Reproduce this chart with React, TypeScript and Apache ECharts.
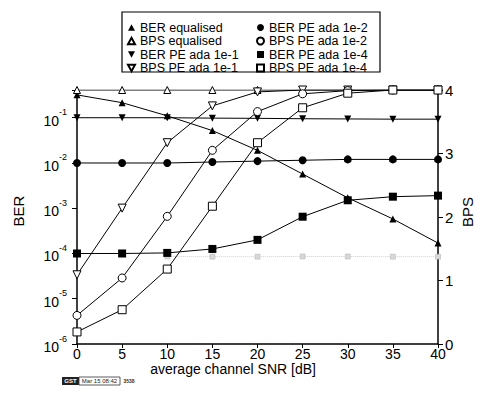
import React, { useEffect, useRef } from "react";
import * as echarts from "echarts";

const snr = [0, 5, 10, 15, 20, 25, 30, 35, 40];
const berEqualised = [0.32, 0.215, 0.11, 0.052, 0.019, 0.0057, 0.0017, 0.00058, 0.00017];
const bpsEqualised = [4, 4, 4, 4, 4, 4, 4, 4, 4];
const berPe1 = [0.1, 0.1, 0.1, 0.098, 0.097, 0.095, 0.094, 0.093, 0.093];
const bpsPe1 = [1.09, 2.14, 3.17, 3.75, 3.97, 4, 4, 4, 4];
const berPe2 = [0.01, 0.01, 0.01, 0.0105, 0.011, 0.0115, 0.012, 0.012, 0.012];
const bpsPe2 = [0.45, 1.04, 2.01, 3.05, 3.66, 3.94, 3.99, 4, 4];
const berPe4 = [1e-4, 1e-4, 1.03e-4, 1.26e-4, 2.0e-4, 6.5e-4, 1.5e-3, 1.8e-3, 1.9e-3];
const bpsPe4 = [0.19, 0.54, 1.18, 2.17, 3.17, 3.72, 3.95, 4, 4];
const faintSnr = [10, 15, 20, 25, 30, 35, 40];
const faintValues = [8.6e-5, 8.5e-5, 8.5e-5, 8.6e-5, 8.6e-5, 8.5e-5, 8.5e-5];

const legendLeft = ["BER equalised", "BPS equalised", "BER PE ada 1e-1", "BPS PE ada 1e-1"];
const legendRight = ["BER PE ada 1e-2", "BPS PE ada 1e-2", "BER PE ada 1e-4", "BPS PE ada 1e-4"];

const FONT = "Liberation Sans";
const DOWN_TRI = "path://M0,0L10,0L5,9Z";
const UP_TRI = "path://M5,0L10,9L0,9Z";

const pair = (xs: number[], ys: number[]) => xs.map((x, i) => [x, ys[i]]);

function mkSeries(name: string, ys: number[], axis: number, symbol: string, filled: boolean, size: number) {
  return {
    name,
    type: "line",
    yAxisIndex: axis,
    data: pair(snr, ys),
    symbol,
    symbolSize: size,
    showAllSymbol: true,
    lineStyle: { color: "#000", width: 1 },
    itemStyle: filled
      ? { color: "#000", borderColor: "#000", borderWidth: 0 }
      : { color: "#fff", borderColor: "#000", borderWidth: 1 },
    emphasis: { disabled: true },
    z: 3,
  };
}

export default function App() {
  const ref = useRef<HTMLDivElement>(null);
  useEffect(() => {
    if (!ref.current) return;
    const chart = echarts.init(ref.current, undefined, { renderer: "svg" });
    const legendCommon = {
      orient: "vertical",
      itemWidth: 7,
      itemHeight: 7,
      selectedMode: false,
      textStyle: { fontFamily: FONT, fontSize: 12.5, color: "#000", lineHeight: 12 },
      padding: 0,
    };
    chart.setOption({
      animation: false,
      backgroundColor: "#fff",
      textStyle: { fontFamily: FONT },
      grid: { left: 77, right: 44, top: 90, bottom: 50, containLabel: false },
      legend: [
        {
          ...legendCommon,
          left: 127,
          top: 21,
          itemGap: 0.5,
          data: [
            { name: legendLeft[0], icon: UP_TRI },
            { name: legendLeft[1], icon: UP_TRI },
            { name: legendLeft[2], icon: DOWN_TRI },
            { name: legendLeft[3], icon: DOWN_TRI },
          ],
        },
        {
          ...legendCommon,
          left: 256,
          top: 21,
          itemGap: 0.5,
          data: [
            { name: legendRight[0], icon: "circle" },
            { name: legendRight[1], icon: "circle" },
            { name: legendRight[2], icon: "rect" },
            { name: legendRight[3], icon: "rect" },
          ],
        },
      ],
      xAxis: {
        type: "value",
        min: 0,
        max: 40,
        interval: 5,
        axisLine: { lineStyle: { color: "#000", width: 1.5 } },
        axisTick: { inside: false, length: 4, lineStyle: { color: "#000", width: 1 } },
        axisLabel: { color: "#000", fontSize: 14, margin: 3, fontFamily: FONT, lineHeight: 14 },
        splitLine: { show: false },
      },
      yAxis: [
        {
          type: "log",
          logBase: 10,
          min: 1e-6,
          max: 0.41,
          position: "left",
          axisLine: { show: true, lineStyle: { color: "#000", width: 1.5 } },
          axisTick: { show: true, inside: false, length: 5, lineStyle: { color: "#000" } },
          splitLine: { show: false },
          minorTick: { show: false },
          axisLabel: {
            color: "#000",
            margin: 10,
            fontFamily: FONT,
            formatter: (v: number) => {
              const l = Math.log10(v);
              const e = Math.round(l);
              if (Math.abs(l - e) > 1e-6) return "";
              return `{b|10}{s|${e}}`;
            },
            rich: {
              b: { fontSize: 14, lineHeight: 20, verticalAlign: "bottom", fontFamily: FONT, color: "#000" },
              s: { fontSize: 9, lineHeight: 10, verticalAlign: "top", fontFamily: FONT, color: "#000" },
            },
          },
        },
        {
          type: "value",
          min: 0,
          max: 4,
          interval: 1,
          position: "right",
          axisLine: { show: true, lineStyle: { color: "#000", width: 1.5 } },
          axisTick: { show: true, inside: false, length: 5, lineStyle: { color: "#000" } },
          splitLine: { show: false },
          axisLabel: { color: "#000", fontSize: 15, margin: 7, fontFamily: FONT },
        },
      ],
      series: [
        {
          name: "faint",
          type: "line",
          yAxisIndex: 0,
          data: pair(faintSnr, faintValues),
          symbol: "rect",
          symbolSize: 5,
          lineStyle: { color: "#cfcfcf", width: 1, type: "dotted" },
          itemStyle: { color: "#d8d8d8", borderColor: "#b0b0b0", borderWidth: 0.5 },
          emphasis: { disabled: true },
          z: 1,
        },
        mkSeries(legendLeft[0], berEqualised, 0, UP_TRI, true, 7),
        mkSeries(legendLeft[1], bpsEqualised, 1, UP_TRI, false, 7),
        mkSeries(legendLeft[2], berPe1, 0, DOWN_TRI, true, 7),
        mkSeries(legendLeft[3], bpsPe1, 1, DOWN_TRI, false, 8),
        mkSeries(legendRight[0], berPe2, 0, "circle", true, 8),
        mkSeries(legendRight[1], bpsPe2, 1, "circle", false, 8),
        mkSeries(legendRight[2], berPe4, 0, "rect", true, 8),
        mkSeries(legendRight[3], bpsPe4, 1, "rect", false, 8),
      ],
      graphic: [
        {
          type: "rect",
          shape: { x: 122, y: 12, width: 258, height: 60 },
          style: { fill: "none", stroke: "#000", lineWidth: 1.2 },
          silent: true,
        },
        {
          type: "text",
          x: 18,
          y: 211,
          rotation: Math.PI / 2,
          style: { text: "BER", font: `15px '${FONT}'`, fill: "#000", align: "center", verticalAlign: "middle" },
        },
        {
          type: "text",
          x: 467,
          y: 212,
          rotation: Math.PI / 2,
          style: { text: "BPS", font: `15px '${FONT}'`, fill: "#000", align: "center", verticalAlign: "middle" },
        },
        {
          type: "text",
          x: 233,
          y: 369,
          style: {
            text: "average channel SNR [dB]",
            font: `14px '${FONT}'`,
            fill: "#000",
            align: "center",
            verticalAlign: "middle",
          },
        },
        {
          type: "rect",
          shape: { x: 62, y: 377, width: 17, height: 8 },
          style: { fill: "#222" },
        },
        {
          type: "text",
          x: 70.5,
          y: 381,
          style: { text: "GST", font: `bold 6px '${FONT}'`, fill: "#fff", align: "center", verticalAlign: "middle" },
        },
        {
          type: "rect",
          shape: { x: 79, y: 377, width: 41, height: 8 },
          style: { fill: "none", stroke: "#333", lineWidth: 0.8 },
        },
        {
          type: "text",
          x: 99.5,
          y: 381,
          style: { text: "Mar 15 08:42", font: `6px '${FONT}'`, fill: "#222", align: "center", verticalAlign: "middle" },
        },
        {
          type: "text",
          x: 129,
          y: 381,
          style: { text: "3538", font: `bold 5px '${FONT}'`, fill: "#333", align: "center", verticalAlign: "middle" },
        },
      ],
    });
    return () => chart.dispose();
  }, []);
  return <div ref={ref} style={{ width: 482, height: 394, margin: -8 }} />;
}
